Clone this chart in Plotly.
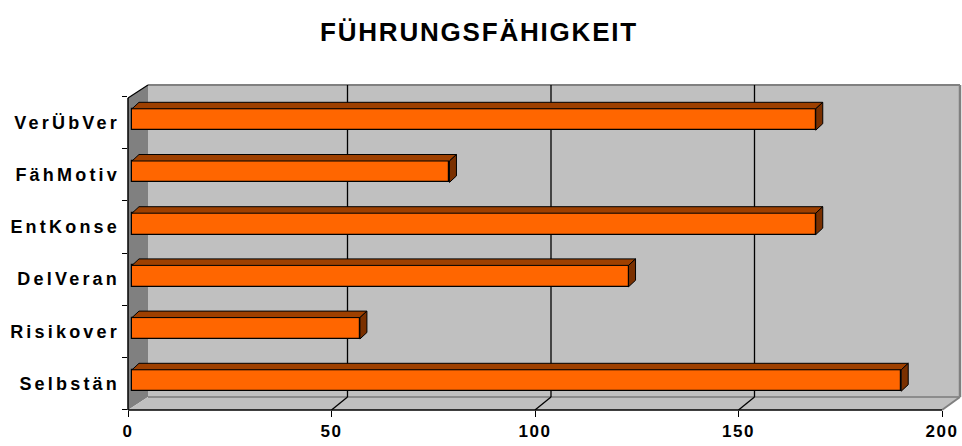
import plotly.graph_objects as go

# ---- data (bottom to top) ----
categories = ["Selbstän", "Risikover", "DelVeran", "EntKonse", "FähMotiv", "VerÜbVer"]
values = [189, 56, 122, 168, 78, 168]
x_ticks = [0, 50, 100, 150, 200]
title_text = "FÜHRUNGSFÄHIGKEIT"

# ---- geometry (pixels) ----
W, H = 962, 446
L, R, T, B = 128, 0, 84, 36
PW, PH = W - L - R, H - T - B
SX = 4.07          # px per value unit
SY = 52.2          # px per category step
BAR_X0 = 132       # px of value 0 in bar plane
BAR_Y0 = 380.5     # px of first category centre in bar plane
LAB_Y0 = 383.5     # px of first category centre on front edge
BW = 0.41          # bar thickness (category units)
DX, DY = 7 / SX, 6.5 / SY   # bar depth in data units

def px(x):
    return (x - L) / PW

def py(y):
    return (T + PH - y) / PH

pos = list(range(len(categories)))

fig = go.Figure()

# front faces
fig.add_trace(go.Bar(
    x=values, y=pos, orientation="h", width=BW,
    marker=dict(color="#FF6600", line=dict(color="black", width=1.2)),
    xaxis="x", yaxis="y", hoverinfo="skip", showlegend=False,
))

# top faces and side faces
tx, ty, sx, sy = [], [], [], []
for p, v in zip(pos, values):
    top = p + BW / 2
    bot = p - BW / 2
    tx += [0, v, v + DX, DX, 0, None]
    ty += [top, top, top + DY, top + DY, top, None]
    sx += [v, v + DX, v + DX, v, v, None]
    sy += [bot, bot + DY, top + DY, top, bot, None]
fig.add_trace(go.Scatter(x=tx, y=ty, mode="lines", fill="toself",
                         fillcolor="#9E4000", line=dict(color="black", width=1),
                         xaxis="x", yaxis="y", hoverinfo="skip", showlegend=False))
fig.add_trace(go.Scatter(x=sx, y=sy, mode="lines", fill="toself",
                         fillcolor="#7A3000", line=dict(color="black", width=1),
                         xaxis="x", yaxis="y", hoverinfo="skip", showlegend=False))
# empty trace so the front (label) axes get drawn
fig.add_trace(go.Scatter(x=[None], y=[None], mode="markers", xaxis="x2", yaxis="y2",
                         hoverinfo="skip", showlegend=False))

# ---- walls / floor / gridlines as decoration shapes ----
shapes = []
def poly(points, fill, line_color=None, width=0):
    path = "M " + " L ".join(f"{px(a):.5f},{py(b):.5f}" for a, b in points) + " Z"
    shapes.append(dict(type="path", path=path, xref="paper", yref="paper",
                       fillcolor=fill, line=dict(width=width, color=line_color or fill),
                       layer="below"))

def seg(a, b, c, d, color, width):
    shapes.append(dict(type="line", xref="paper", yref="paper",
                       x0=px(a), y0=py(b), x1=px(c), y1=py(d),
                       line=dict(color=color, width=width), layer="below"))

poly([(148, 85), (960, 85), (960, 397), (148, 397)], "#C0C0C0")
poly([(128, 98), (148, 85), (148, 397), (128, 410)], "#808080")
poly([(128, 410), (148, 397), (960, 397), (942, 410)], "#C0C0C0")
seg(148, 85, 960, 85, "#808080", 2)
seg(960, 85, 960, 397, "#808080", 2.5)
seg(148, 397, 960, 397, "#8C8C8C", 2)
seg(942, 410, 960, 397, "#808080", 2)
for v in x_ticks[1:-1]:
    fx = 128 + SX * v
    seg(fx, 410, fx + 16, 397, "black", 1.3)
    seg(fx + 16, 397, fx + 16, 85, "black", 1.3)
seg(128, 98, 148, 85, "black", 1.2)
seg(128, 98, 128, 410, "black", 1.5)
seg(128, 410, 942, 410, "black", 1.5)

xfnt = dict(family="Liberation Sans, Arial, sans-serif", size=17, color="black", weight="bold")
yfnt = dict(family="Liberation Sans, Arial, sans-serif", size=18, color="black", weight="bold")

def spaced(s, sp):
    return f'<span style="letter-spacing:{sp}px">{s}</span>'

fig.update_layout(
    width=W, height=H,
    margin=dict(l=L, r=R, t=T, b=B, pad=0),
    paper_bgcolor="white", plot_bgcolor="white",
    showlegend=False,
    bargap=0,
    title=dict(text=spaced(title_text, 1.8), x=479 / W, xanchor="center", y=1 - 32 / H, yanchor="middle",
               font=dict(family="Liberation Sans, Arial, sans-serif", size=26, color="black", weight="bold")),
    xaxis=dict(range=[(L - BAR_X0) / SX, (W - R - BAR_X0) / SX], visible=False, fixedrange=True),
    yaxis=dict(range=[(BAR_Y0 - (T + PH)) / SY, (BAR_Y0 - T) / SY], visible=False, fixedrange=True),
    xaxis2=dict(overlaying="x", anchor="y2", side="bottom",
                range=[0, PW / SX], tickmode="array", tickvals=x_ticks,
                ticktext=[spaced(str(t), 1.5) for t in x_ticks],
                ticks="outside", ticklen=6, tickwidth=1.3, tickcolor="black",
                showgrid=False, zeroline=False, showline=False, tickfont=xfnt, fixedrange=True),
    yaxis2=dict(overlaying="y", anchor="x2", side="left",
                range=[(LAB_Y0 - (T + PH)) / SY, (LAB_Y0 - T) / SY],
                tickmode="array", tickvals=pos,
                ticktext=[spaced(c, 3.2) for c in categories],
                ticks="", showgrid=False, zeroline=False, showline=False,
                minor=dict(ticks="outside", tick0=-0.5, dtick=1, ticklen=5,
                           tickwidth=1.3, tickcolor="black", showgrid=False),
                tickfont=yfnt, ticklabelstandoff=7, fixedrange=True),
)
fig.update_layout(shapes=shapes)

fig.write_html("out.html", config={"displayModeBar": False},
               post_script="document.body.style.margin='0';")
